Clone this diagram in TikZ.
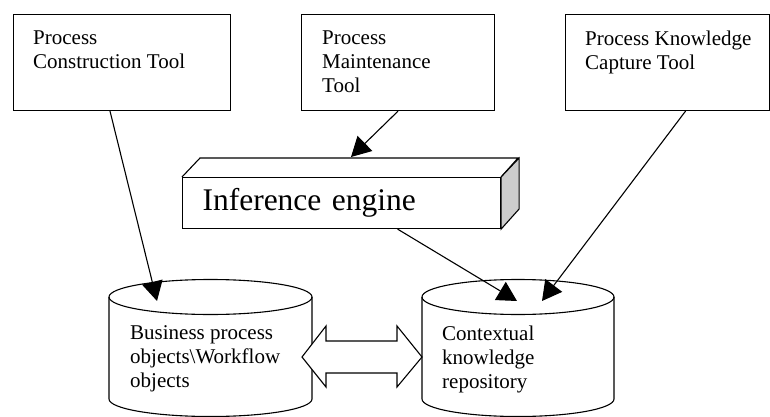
\documentclass[tikz,border=0pt]{standalone}
\usepackage{fontspec}
\setmainfont{Liberation Serif}
\usetikzlibrary{arrows.meta}

\begin{document}
\begin{tikzpicture}[x=1pt, y=-1pt,
  toolbox/.style={draw, line width=1.1pt, anchor=north west, inner sep=0pt, minimum height=96pt},
  tooltext/.style={anchor=north west, inner sep=0pt, align=left, font=\fontsize{21}{24}\selectfont},
  feed/.style={line width=1.1pt, -{Triangle[length=19.5pt, width=21pt]}},
  edge/.style={line width=1.1pt}]
\useasboundingbox (0,0) rectangle (770,417);

% tools on top
\node[toolbox, minimum width=217pt] (pct) at (13,14) {};
\node[toolbox, minimum width=193pt] (pmt) at (301,14) {};
\node[toolbox, minimum width=204pt] (pkct) at (565,14) {};
\node[tooltext] (pct-txt) at (33,30.5) {Process\\Construction Tool};
\node[tooltext] (pmt-txt) at (322,30.5) {Process\\Maintenance\\Tool};
\node[tooltext] (pkct-txt) at (585,30.5) {Process Knowledge\\Capture Tool};

% inference engine as a 3d block
\node[draw, line width=1.1pt, anchor=north west, minimum width=318pt, minimum height=51pt,
  text width=278pt, inner xsep=20pt, inner ysep=0pt, align=left,
  font=\fontsize{31.5}{36}\selectfont] (ie) at (182,177) {Inference engine};
\draw[edge] (ie.north west) -- ++(18,-19) -- ++(318,0) -- (ie.north east);
\draw[edge, fill=gray!40] (ie.north east) -- ++(18,-19) -- ++(0,51) -- (ie.south east) -- cycle;
\coordinate (ie-in) at (351,157);

% the two stores
\draw[edge] (109,297) -- (109,399) arc[start angle=180, end angle=0, x radius=101.5, y radius=17.5] -- (312,297);
\draw[edge] (210.5,297) ellipse [x radius=101.5, y radius=17.5];
\draw[edge] (422,297) -- (422,399) arc[start angle=180, end angle=0, x radius=96, y radius=17.5] -- (614,297);
\draw[edge] (518,297) ellipse [x radius=96, y radius=17.5];
\node[tooltext] (bpo) at (130,325.5) {Business process\\objects\textbackslash Workflow\\objects};
\node[tooltext] (ckr) at (442,325.5) {Contextual\\knowledge\\repository};
\coordinate (bpo-in) at (157,301);
\coordinate (ckr-in1) at (517,301);
\coordinate (ckr-in2) at (542,301);

% exchange between the stores
\coordinate (link-l) at (302,357);
\coordinate (link-r) at (422,357);
\draw[edge, fill=white] (link-l) -- ++(24,-31) -- ++(0,15) -- ++(71,0) -- ++(0,-15) -- (link-r)
  -- ++(-25,30) -- ++(0,-14) -- ++(-71,0) -- ++(0,14) -- cycle;

\draw[feed] ([xshift=97pt]pct.south west) -- (bpo-in);
\draw[feed] (pmt.south) -- (ie-in);
\draw[feed] ([xshift=56pt]ie.south) -- (ckr-in1);
\draw[feed] ([xshift=18pt]pkct.south) -- (ckr-in2);

\end{tikzpicture}
\end{document}
